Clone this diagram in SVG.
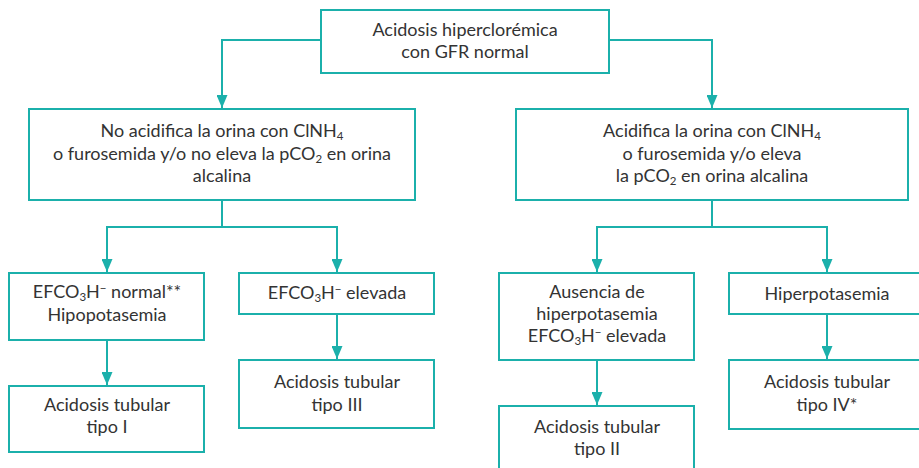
<svg xmlns="http://www.w3.org/2000/svg" width="919" height="468" viewBox="0 0 919 468">
<style>
.box{fill:#fff;stroke:#1bb0ab;stroke-width:2}
.con{fill:none;stroke:#1bb0ab;stroke-width:2}
text{font-family:Lato,"Liberation Sans",sans-serif;font-size:18px;fill:#333;text-anchor:middle}
.s{font-size:11.5px}
</style>
<defs>
<marker id="ah" markerUnits="userSpaceOnUse" markerWidth="14" markerHeight="11" refX="13" refY="5.5" orient="auto">
<path d="M0,0 L13,5.5 L0,11 Z" fill="#1bb0ab"/>
</marker>
</defs>
<rect width="919" height="468" fill="#fff"/>
<g id="connectors">
<path class="con" d="M321,40 H222 V108" marker-end="url(#ah)"/>
<path class="con" d="M609,40 H712 V108" marker-end="url(#ah)"/>
<path class="con" d="M222,200 V227 H107 V272" marker-end="url(#ah)"/>
<path class="con" d="M222,227 H337 V272" marker-end="url(#ah)"/>
<path class="con" d="M712,200 V227 H597 V272" marker-end="url(#ah)"/>
<path class="con" d="M712,227 H827 V272" marker-end="url(#ah)"/>
<path class="con" d="M107,340 V385" marker-end="url(#ah)"/>
<path class="con" d="M337,314 V359" marker-end="url(#ah)"/>
<path class="con" d="M597,360 V405" marker-end="url(#ah)"/>
<path class="con" d="M827,314 V359" marker-end="url(#ah)"/>
</g>
<g id="n-top">
<rect class="box" x="321" y="10" width="288" height="63"/>
<text x="465" y="36">Acidosis hiperclorémica</text>
<text x="465" y="58">con GFR normal</text>
</g>
<g id="n-noacid">
<rect class="box" x="29" y="109" width="386" height="91"/>
<text x="222" y="137">No acidifica la orina con ClNH<tspan class="s" dy="3">4</tspan></text>
<text x="222" y="160">o furosemida y/o no eleva la pCO<tspan class="s" dy="3">2</tspan><tspan dy="-3"> en orina</tspan></text>
<text x="222" y="182">alcalina</text>
</g>
<g id="n-acid">
<rect class="box" x="516" y="109" width="392" height="91"/>
<text x="712" y="137">Acidifica la orina con ClNH<tspan class="s" dy="3">4</tspan></text>
<text x="712" y="160">o furosemida y/o eleva</text>
<text x="712" y="182">la pCO<tspan class="s" dy="3">2</tspan><tspan dy="-3"> en orina alcalina</tspan></text>
</g>
<g id="n-efnormal">
<rect class="box" x="9" y="273" width="195" height="67"/>
<text x="107" y="298">EFCO<tspan class="s" dy="3">3</tspan><tspan dy="-3">H</tspan><tspan class="s" dy="-6">−</tspan><tspan dy="6"> normal**</tspan></text>
<text x="107" y="321">Hipopotasemia</text>
</g>
<g id="n-efelev">
<rect class="box" x="239" y="273" width="195" height="41"/>
<text x="337" y="299">EFCO<tspan class="s" dy="3">3</tspan><tspan dy="-3">H</tspan><tspan class="s" dy="-6">−</tspan><tspan dy="6"> elevada</tspan></text>
</g>
<g id="n-ausencia">
<rect class="box" x="499" y="273" width="195" height="87"/>
<text x="597" y="298">Ausencia de</text>
<text x="597" y="320">hiperpotasemia</text>
<text x="597" y="342">EFCO<tspan class="s" dy="3">3</tspan><tspan dy="-3">H</tspan><tspan class="s" dy="-6">−</tspan><tspan dy="6"> elevada</tspan></text>
</g>
<g id="n-hiper">
<rect class="box" x="729" y="273" width="195" height="41"/>
<text x="827" y="300">Hiperpotasemia</text>
</g>
<g id="n-tipo1">
<rect class="box" x="9" y="386" width="195" height="66"/>
<text x="107" y="411">Acidosis tubular</text>
<text x="107" y="433">tipo I</text>
</g>
<g id="n-tipo3">
<rect class="box" x="239" y="360" width="195" height="68"/>
<text x="337" y="388">Acidosis tubular</text>
<text x="337" y="411">tipo III</text>
</g>
<g id="n-tipo2">
<rect class="box" x="499" y="406" width="195" height="70"/>
<text x="597" y="433">Acidosis tubular</text>
<text x="597" y="455">tipo II</text>
</g>
<g id="n-tipo4">
<rect class="box" x="729" y="360" width="195" height="69"/>
<text x="827" y="388">Acidosis tubular</text>
<text x="827" y="411">tipo IV*</text>
</g>
</svg>
